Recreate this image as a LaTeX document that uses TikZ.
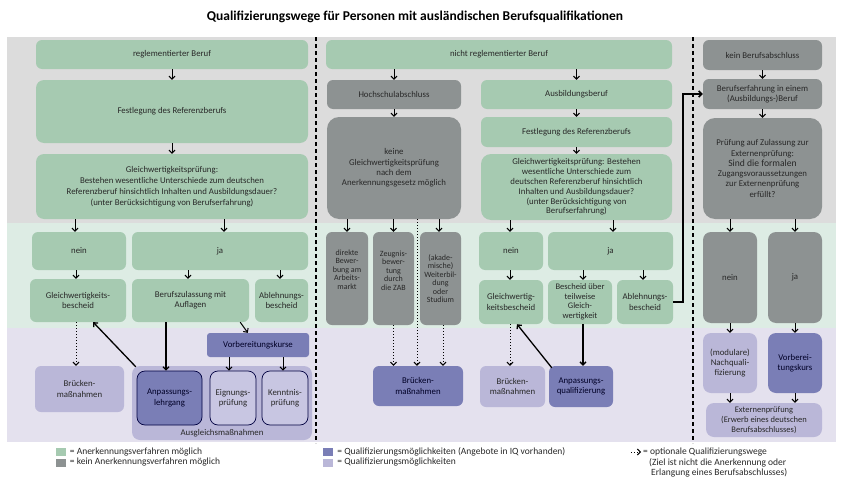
\documentclass[tikz,border=0pt]{standalone}
\usepackage{fontspec}
\setmainfont{Carlito}
\usetikzlibrary{arrows.meta}
\definecolor{bggray}{RGB}{220,220,220}
\definecolor{bggreen}{RGB}{221,236,228}
\definecolor{bglav}{RGB}{228,225,238}
\definecolor{anerkgreen}{RGB}{166,202,177}
\definecolor{keingray}{RGB}{141,146,146}
\definecolor{iqpurple}{RGB}{122,126,182}
\definecolor{qualpurple}{RGB}{186,183,216}
\definecolor{qualpale}{RGB}{200,198,226}
\definecolor{inktext}{RGB}{40,40,40}
\tikzset{
  box/.style={rounded corners=6pt, align=center, inner sep=1pt, text=inktext,
    font=\fontsize{8.8}{10.3}\selectfont},
  wh/.style 2 args={minimum width=#1, minimum height=#2},
  anerk/.style={box, fill=anerkgreen},
  kein/.style={box, fill=keingray},
  iq/.style={box, fill=iqpurple, text=black!85!blue},
  qual/.style={box, fill=qualpurple},
  arr/.style={-{Straight Barb[length=3pt,width=6pt]}, line width=1pt},
  heavy/.style={arr, line width=1.3pt},
  opt/.style={arr, dotted, line width=1pt},
  sep/.style={line width=1.1pt, dash pattern=on 4pt off 3pt},
  legend/.style={inner sep=1pt, anchor=west, text=inktext, font=\fontsize{9.5}{10}\selectfont}
}

\begin{document}
\begin{tikzpicture}[x=1pt, y=-1pt]
\useasboundingbox (0,0) rectangle (841,479);

\node[font=\bfseries\fontsize{13.5}{15}\selectfont] (title) at (415,17)
  {Qualifizierungswege für Personen mit ausländischen Berufsqualifikationen};

\fill[bggray] (7,37) rectangle (836,223);
\fill[bggreen] (7,223) rectangle (836,328);
\fill[bglav] (7,328) rectangle (836,442);
\draw[sep] (316,37) -- (316,443);
\draw[sep] (693,37) -- (693,443);

% reglementierter Beruf
\node[anerk, wh={272}{29}] (regl) at (172,54.5) {reglementierter Beruf};
\node[anerk, wh={272}{63}, rounded corners=8pt] (fest1) at (172,111.5) {Festlegung des Referenzberufs};
\node[anerk, wh={272}{65}, rounded corners=8pt, font=\fontsize{8.8}{11}\selectfont] (gwp1) at (172,186.5)
  {Gleichwertigkeitsprüfung:\\Bestehen wesentliche Unterschiede zum deutschen\\Referenzberuf hinsichtlich Inhalten und Ausbildungsdauer?\\(unter Berücksichtigung von Berufserfahrung)};
\node[anerk, wh={94}{38}] (nein1) at (79,251) {nein};
\node[anerk, wh={176}{38}] (ja1) at (220,251) {ja};
\node[anerk, wh={96}{43}] (gwb1) at (78,300.5) {Gleichwertigkeits-\\bescheid};
\node[anerk, wh={117}{43}] (bza) at (190.5,300.5) {Berufszulassung mit\\Auflagen};
\node[anerk, wh={53}{43}] (abl1) at (281.5,300.5) {Ablehnungs-\\bescheid};
\node[iq, wh={102}{24}, rounded corners=3pt] (vbk) at (258,345) {Vorbereitungskurse};
\node[qual, wh={89}{46}] (bru1) at (79.5,389) {Brücken-\\maßnahmen};
\node[qual, wh={180}{74}, rounded corners=8pt] (agm) at (222,403) {};
\node[box, inner sep=0pt] (agmlabel) at (222,433) {Ausgleichsmaßnahmen};
\node[iq, wh={65}{54}, rounded corners=8pt, draw=black!75!blue, line width=0.7pt] (apl) at (169.5,398) {Anpassungs-\\lehrgang};
\node[qual, fill=qualpale, wh={46}{54}, rounded corners=8pt, draw=black!75!blue, line width=0.7pt] (eig) at (233,398) {Eignungs-\\prüfung};
\node[qual, fill=qualpale, wh={46}{54}, rounded corners=8pt, draw=black!75!blue, line width=0.7pt] (ken) at (285,398) {Kenntnis-\\prüfung};

\draw[arr] (regl) -- (fest1);
\draw[arr] (fest1) -- (gwp1);
\draw[arr] (gwp1.south -| 75,0) -- (nein1.north -| 75,0);
\draw[arr] (gwp1.south -| 224,0) -- (ja1.north -| 224,0);
\draw[arr] (nein1.south -| 76,0) -- (gwb1.north -| 76,0);
\draw[arr] (ja1.south -| 188,0) -- (bza.north -| 188,0);
\draw[arr] (ja1.south -| 280,0) -- (abl1.north -| 280,0);
\draw[arr] ([xshift=-9pt]bza.south east) -- ([xshift=41pt]vbk.north west);
\draw[heavy] (bza.south -| 166,0) -- (apl.north -| 166,0);
\draw[arr] (vbk.south -| 229,0) -- (eig.north -| 229,0);
\draw[arr] (vbk.south -| 283,0) -- (ken.north -| 283,0);
\draw[opt] (gwb1.south -| 76,0) -- (bru1.north -| 76,0);
\draw[heavy] ([xshift=4pt,yshift=-1pt]agm.north west) -- ([xshift=-33pt]gwb1.south east);

% nicht reglementierter Beruf
\node[anerk, wh={346}{29}] (nregl) at (499,54.5) {nicht reglementierter Beruf};
\node[kein, wh={134}{29}] (hsa) at (394,94.5) {Hochschulabschluss};
\node[anerk, wh={191}{29}] (abb) at (576.5,94.5) {Ausbildungsberuf};
\node[kein, wh={134}{102}, rounded corners=12pt] (kgp) at (394,168)
  {keine\\Gleichwertigkeitsprüfung\\nach dem\\Anerkennungsgesetz möglich};
\node[anerk, wh={191}{30}] (fest2) at (576.5,132) {Festlegung des Referenzberufs};
\node[anerk, wh={191}{66}, rounded corners=10pt, font=\fontsize{8.8}{9.8}\selectfont] (gwp2) at (576.5,187)
  {Gleichwertigkeitsprüfung: Bestehen\\wesentliche Unterschiede zum\\deutschen Referenzberuf hinsichtlich\\Inhalten und Ausbildungsdauer?\\(unter Berücksichtigung von\\Berufserfahrung)};
\node[kein, wh={42}{93}, font=\fontsize{8}{8.5}\selectfont] (dbw) at (347,278.5) {direkte\\Bewer-\\bung am\\Arbeits-\\markt\\[10pt]};
\node[kein, wh={41}{93}, font=\fontsize{8}{8.5}\selectfont] (zgb) at (393.5,278.5) {Zeugnis-\\bewer-\\tung\\durch\\die ZAB\\[8pt]};
\node[kein, wh={41}{93}, font=\fontsize{8}{8.5}\selectfont] (awb) at (440.5,278.5) {(akade-\\mische)\\Weiterbil-\\dung\\oder\\Studium};
\node[iq, wh={90}{40}] (bru2) at (418,386) {Brücken-\\maßnahmen};
\node[anerk, wh={64}{38}] (nein2) at (511,251) {nein};
\node[anerk, wh={125}{38}] (ja2) at (610.5,251) {ja};
\node[anerk, wh={64}{44}] (gwb2) at (511,302) {Gleichwertig-\\keitsbescheid};
\node[anerk, wh={64}{44}, font=\fontsize{8.5}{9.5}\selectfont] (btg) at (580,302) {Bescheid über\\teilweise\\Gleich-\\wertigkeit};
\node[anerk, wh={56}{44}] (abl2) at (645,302) {Ablehnungs-\\bescheid};
\node[qual, wh={65}{41}] (bru3) at (512.5,386.5) {Brücken-\\maßnahmen};
\node[iq, wh={64}{41}] (apq) at (581,386.5) {Anpassungs-\\qualifizierung};

\draw[arr] (nregl.south -| hsa.north) -- (hsa.north);
\draw[arr] (nregl.south -| abb.north) -- (abb.north);
\draw[arr] (hsa) -- (kgp);
\draw[arr] (abb) -- (fest2);
\draw[arr] (fest2) -- (gwp2);
\draw[arr] (kgp.south -| dbw.north) -- (dbw.north);
\draw[arr] (kgp.south -| zgb.north) -- (zgb.north);
\draw[arr] (kgp.south -| 439,0) -- (awb.north -| 439,0);
\draw[opt] (kgp.south -| 417,0) -- (bru2.north -| 417,0);
\draw[opt] (zgb.south) -- (zgb.south |- bru2.north);
\draw[opt] (awb.south -| 443,0) -- (bru2.north -| 443,0);
\draw[arr] (gwp2.south -| 510,0) -- (nein2.north -| 510,0);
\draw[arr] (gwp2.south -| 613,0) -- (ja2.north -| 613,0);
\draw[arr] (nein2.south -| 510,0) -- (gwb2.north -| 510,0);
\draw[arr] (ja2.south -| 583,0) -- (btg.north -| 583,0);
\draw[arr] (ja2.south -| 643,0) -- (abl2.north -| 643,0);
\draw[opt] (gwb2.south -| 510,0) -- (bru3.north -| 510,0);
\draw[heavy] (btg.south -| 583,0) -- (apq.north -| 583,0);
\draw[heavy] ([xshift=3pt,yshift=-2pt]apq.north west) -- ([xshift=6pt]gwb2.south);

% kein Berufsabschluss
\node[kein, wh={119}{30}] (kba) at (762.5,55) {kein Berufsabschluss};
\node[kein, wh={119}{30}] (bea) at (762.5,94) {Berufserfahrung in einem\\(Ausbildungs-)Beruf};
\node[kein, wh={119}{101}, rounded corners=12pt] (pzx) at (762.5,168.5)
  {Prüfung auf Zulassung zur\\Externenprüfung:\\{\fontsize{9.6}{10.5}\selectfont Sind die formalen}\\Zugangsvoraussetzungen\\zur Externenprüfung\\erfüllt?};
\node[kein, wh={54}{91}, rounded corners=8pt] (nein3) at (730,277.5) {nein};
\node[kein, wh={54}{91}, rounded corners=8pt] (ja3) at (795,277.5) {ja};
\node[qual, wh={54}{60}, rounded corners=8pt] (mnq) at (730,363) {(modulare)\\Nachquali-\\fizierung};
\node[iq, wh={54}{60}, rounded corners=8pt] (vbk3) at (795,363) {Vorberei-\\tungskurs};
\node[qual, wh={116}{34}, rounded corners=8pt, font=\fontsize{8.5}{9.8}\selectfont] (exp) at (764,420) {Externenprüfung\\(Erwerb eines deutschen\\Berufsabschlusses)};

\draw[arr] (kba) -- (bea);
\draw[arr] (bea) -- (pzx);
\draw[arr] (pzx.south -| nein3.north) -- (nein3.north);
\draw[arr] (pzx.south -| ja3.north) -- (ja3.north);
\draw[arr] (nein3) -- (mnq);
\draw[arr] (ja3) -- (vbk3);
\draw[arr] (mnq.south) -- (mnq.south |- exp.north);
\draw[arr] (vbk3.south) -- (vbk3.south |- exp.north);
\draw[heavy, line width=1.5pt] (abl2.east) -- ++(10,0) |- (bea.west);

% legend
\node[fill=anerkgreen, minimum width=10pt, minimum height=8pt, inner sep=0pt] (lg1) at (60.5,452) {};
\node[legend] (lt1) at ([xshift=3pt]lg1.east) {= Anerkennungsverfahren möglich};
\node[fill=keingray, minimum width=10pt, minimum height=8pt, inner sep=0pt] (lg2) at (60.5,462.5) {};
\node[legend] (lt2) at ([xshift=3pt]lg2.east) {= kein Anerkennungsverfahren möglich};
\node[fill=iqpurple, minimum width=10pt, minimum height=8pt, inner sep=0pt] (lg3) at (328,452) {};
\node[legend] (lt3) at ([xshift=3pt]lg3.east) {= Qualifizierungsmöglichkeiten (Angebote in IQ vorhanden)};
\node[fill=qualpurple, minimum width=10pt, minimum height=8pt, inner sep=0pt] (lg4) at (328,462.5) {};
\node[legend] (lt4) at ([xshift=3pt]lg4.east) {= Qualifizierungsmöglichkeiten};
\coordinate (lg5) at (631,452);
\draw[opt] (lg5) -- ++(10,0) coordinate (lg5e);
\node[legend] (lt5) at ([xshift=1pt]lg5e) {= optionale Qualifizierungswege};
\node[legend, anchor=north west, align=left] (lt6) at (648,457.5)
  {(Ziel ist nicht die Anerkennung oder\\\hspace*{2pt}Erlangung eines Berufsabschlusses)};
\end{tikzpicture}
\end{document}
